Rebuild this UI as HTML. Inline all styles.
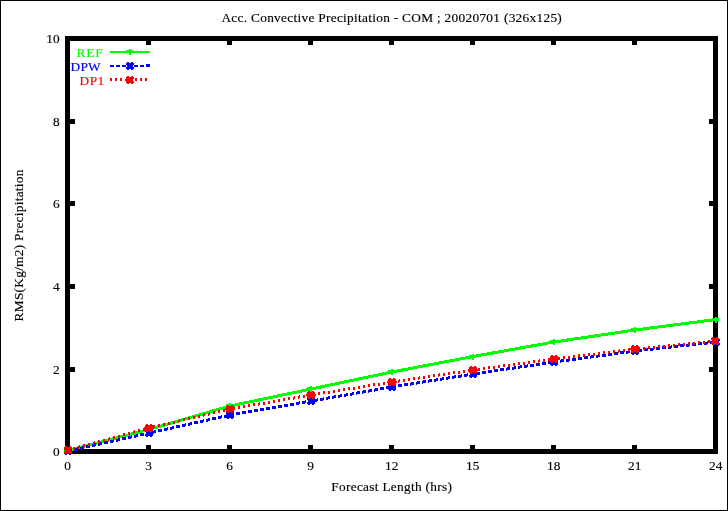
<!DOCTYPE html>
<html><head><meta charset="utf-8"><title>Acc. Convective Precipitation</title>
<style>html,body{margin:0;padding:0;background:#fff}svg{display:block}text{font-family:"Liberation Serif","Times New Roman",serif;font-size:13.33px;fill:#000;stroke:#000;stroke-width:0.15px}</style></head><body>
<svg width="728" height="511" viewBox="0 0 728 511">
<rect x="0" y="0" width="728" height="511" fill="#fff"/>
<g shape-rendering="crispEdges">
<rect x="0.5" y="0.5" width="727" height="510" fill="none" stroke="#000" stroke-width="1"/>
<rect x="67.5" y="38.5" width="648" height="413" fill="none" stroke="#000" stroke-width="5"/>
<rect x="146" y="41" width="5" height="4" fill="#000"/>
<rect x="146" y="445" width="5" height="4" fill="#000"/>
<rect x="227" y="41" width="5" height="4" fill="#000"/>
<rect x="227" y="445" width="5" height="4" fill="#000"/>
<rect x="308" y="41" width="5" height="4" fill="#000"/>
<rect x="308" y="445" width="5" height="4" fill="#000"/>
<rect x="389" y="41" width="5" height="4" fill="#000"/>
<rect x="389" y="445" width="5" height="4" fill="#000"/>
<rect x="470" y="41" width="5" height="4" fill="#000"/>
<rect x="470" y="445" width="5" height="4" fill="#000"/>
<rect x="551" y="41" width="5" height="4" fill="#000"/>
<rect x="551" y="445" width="5" height="4" fill="#000"/>
<rect x="632" y="41" width="5" height="4" fill="#000"/>
<rect x="632" y="445" width="5" height="4" fill="#000"/>
<rect x="70" y="367" width="5" height="5" fill="#000"/>
<rect x="709" y="367" width="4" height="5" fill="#000"/>
<rect x="70" y="284" width="5" height="5" fill="#000"/>
<rect x="709" y="284" width="4" height="5" fill="#000"/>
<rect x="70" y="201" width="5" height="5" fill="#000"/>
<rect x="709" y="201" width="4" height="5" fill="#000"/>
<rect x="70" y="119" width="5" height="5" fill="#000"/>
<rect x="709" y="119" width="4" height="5" fill="#000"/>
<polyline points="68,450.5 149,429.5 230,406 311,389 392,372 473,356.5 554,342 635,330 716,319.5" fill="none" stroke="#00ff00" stroke-width="3"/>
<path d="M68 449h4v3h-4zM74 448h3v3h-3zM77 447h1v3h-1zM80 447h2v3h-2zM82 446h2v3h-2zM86 445h4v3h-4zM92 444h3v3h-3zM95 443h1v3h-1zM98 443h2v3h-2zM100 442h2v3h-2zM104 441h4v3h-4zM110 440h3v3h-3zM113 439h1v3h-1zM116 439h2v3h-2zM118 438h2v3h-2zM122 437h4v3h-4zM128 436h3v3h-3zM131 435h1v3h-1zM134 435h2v3h-2zM136 434h2v3h-2zM140 433h4v3h-4zM146 432h3v3h-3zM149 431h1v3h-1zM152 431h2v3h-2zM154 430h2v3h-2zM158 429h4v3h-4zM164 428h3v3h-3zM167 427h1v3h-1zM170 427h2v3h-2zM172 426h2v3h-2zM176 425h4v3h-4zM182 424h3v3h-3zM185 423h1v3h-1zM188 423h2v3h-2zM190 422h2v3h-2zM194 421h4v3h-4zM200 420h3v3h-3zM203 419h1v3h-1zM206 419h2v3h-2zM208 418h2v3h-2zM212 417h4v3h-4zM218 416h3v3h-3zM221 415h1v3h-1zM224 415h2v3h-2zM226 414h2v3h-2zM230 413h4v3h-4zM236 412h4v3h-4zM242 411h4v3h-4zM248 410h4v3h-4zM254 409h4v3h-4zM260 408h4v3h-4zM266 407h4v3h-4zM272 406h4v3h-4zM278 405h4v3h-4zM284 404h4v3h-4zM290 403h4v3h-4zM296 402h3v3h-3zM299 401h1v3h-1zM302 401h3v3h-3zM305 400h1v3h-1zM308 400h3v3h-3zM311 399h1v3h-1zM314 399h3v3h-3zM317 398h1v3h-1zM320 398h3v3h-3zM323 397h1v3h-1zM326 397h2v3h-2zM328 396h2v3h-2zM332 396h2v3h-2zM334 395h2v3h-2zM338 395h2v3h-2zM340 394h2v3h-2zM344 394h2v3h-2zM346 393h2v3h-2zM350 393h2v3h-2zM352 392h2v3h-2zM356 392h1v3h-1zM357 391h3v3h-3zM362 391h1v3h-1zM363 390h3v3h-3zM368 390h1v3h-1zM369 389h3v3h-3zM374 389h1v3h-1zM375 388h3v3h-3zM380 387h4v3h-4zM386 386h4v3h-4zM392 385h4v3h-4zM398 384h4v3h-4zM404 383h4v3h-4zM410 383h1v3h-1zM411 382h3v3h-3zM416 382h1v3h-1zM417 381h3v3h-3zM422 381h1v3h-1zM423 380h3v3h-3zM428 380h1v3h-1zM429 379h3v3h-3zM434 379h2v3h-2zM436 378h2v3h-2zM440 378h2v3h-2zM442 377h2v3h-2zM446 377h2v3h-2zM448 376h2v3h-2zM452 376h2v3h-2zM454 375h2v3h-2zM458 375h3v3h-3zM461 374h1v3h-1zM464 374h3v3h-3zM467 373h1v3h-1zM470 373h3v3h-3zM473 372h1v3h-1zM476 372h4v3h-4zM482 371h4v3h-4zM488 370h4v3h-4zM494 369h4v3h-4zM500 368h4v3h-4zM506 368h1v3h-1zM507 367h3v3h-3zM512 367h2v3h-2zM514 366h2v3h-2zM518 366h2v3h-2zM520 365h2v3h-2zM524 365h3v3h-3zM527 364h1v3h-1zM530 364h4v3h-4zM536 363h4v3h-4zM542 362h4v3h-4zM548 361h4v3h-4zM554 360h4v3h-4zM560 360h1v3h-1zM561 359h3v3h-3zM566 359h3v3h-3zM569 358h1v3h-1zM572 358h4v3h-4zM578 357h4v3h-4zM584 356h4v3h-4zM590 356h1v3h-1zM591 355h3v3h-3zM596 355h2v3h-2zM598 354h2v3h-2zM602 354h4v3h-4zM608 353h4v3h-4zM614 352h4v3h-4zM620 351h4v3h-4zM626 351h2v3h-2zM628 350h2v3h-2zM632 350h3v3h-3zM635 349h1v3h-1zM638 349h4v3h-4zM644 348h4v3h-4zM650 348h3v3h-3zM653 347h1v3h-1zM656 347h4v3h-4zM662 346h4v3h-4zM668 346h3v3h-3zM671 345h1v3h-1zM674 345h4v3h-4zM680 344h4v3h-4zM686 344h3v3h-3zM689 343h1v3h-1zM692 343h4v3h-4zM698 342h4v3h-4zM704 342h3v3h-3zM707 341h1v3h-1zM710 341h4v3h-4z" fill="#0000ff"/>
<path d="M68 448h2v3h-2zM73 447h2v3h-2zM78 446h1v3h-1zM79 445h1v3h-1zM83 444h2v3h-2zM88 443h2v3h-2zM93 442h1v3h-1zM94 441h1v3h-1zM98 440h2v3h-2zM103 439h2v3h-2zM108 438h1v3h-1zM109 437h1v3h-1zM113 436h2v3h-2zM118 435h2v3h-2zM123 433h2v3h-2zM128 432h2v3h-2zM133 431h1v3h-1zM134 430h1v3h-1zM138 429h2v3h-2zM143 428h2v3h-2zM148 427h1v3h-1zM149 426h1v3h-1zM153 425h2v3h-2zM158 424h2v3h-2zM163 423h2v3h-2zM168 422h2v3h-2zM173 421h2v3h-2zM178 420h1v3h-1zM179 419h1v3h-1zM183 418h2v3h-2zM188 417h2v3h-2zM193 416h2v3h-2zM198 415h2v3h-2zM203 414h1v3h-1zM204 413h1v3h-1zM208 413h1v3h-1zM209 412h1v3h-1zM213 411h2v3h-2zM218 410h2v3h-2zM223 409h2v3h-2zM228 408h2v3h-2zM233 407h2v3h-2zM238 406h2v3h-2zM243 405h2v3h-2zM248 404h2v3h-2zM253 403h2v3h-2zM258 403h1v3h-1zM259 402h1v3h-1zM263 402h2v3h-2zM268 401h2v3h-2zM273 400h2v3h-2zM278 399h2v3h-2zM283 398h2v3h-2zM288 397h2v3h-2zM293 397h1v3h-1zM294 396h1v3h-1zM298 396h1v3h-1zM299 395h1v3h-1zM303 395h2v3h-2zM308 394h2v3h-2zM313 393h2v3h-2zM318 392h2v3h-2zM323 391h2v3h-2zM328 391h2v3h-2zM333 390h2v3h-2zM338 389h2v3h-2zM343 388h2v3h-2zM348 387h2v3h-2zM353 387h2v3h-2zM358 386h2v3h-2zM363 385h2v3h-2zM368 384h2v3h-2zM373 383h2v3h-2zM378 383h2v3h-2zM383 382h2v3h-2zM388 381h2v3h-2zM393 380h2v3h-2zM398 380h1v3h-1zM399 379h1v3h-1zM403 379h2v3h-2zM408 378h2v3h-2zM413 377h2v3h-2zM418 377h1v3h-1zM419 376h1v3h-1zM423 376h2v3h-2zM428 375h2v3h-2zM433 374h2v3h-2zM438 374h1v3h-1zM439 373h1v3h-1zM443 373h2v3h-2zM448 372h2v3h-2zM453 371h2v3h-2zM458 371h2v3h-2zM463 370h2v3h-2zM468 369h2v3h-2zM473 368h2v3h-2zM478 368h2v3h-2zM483 367h2v3h-2zM488 366h2v3h-2zM493 366h2v3h-2zM498 365h2v3h-2zM503 364h2v3h-2zM508 364h2v3h-2zM513 363h2v3h-2zM518 362h2v3h-2zM523 362h2v3h-2zM528 361h2v3h-2zM533 360h2v3h-2zM538 360h1v3h-1zM539 359h1v3h-1zM543 359h2v3h-2zM548 358h2v3h-2zM553 358h1v3h-1zM554 357h1v3h-1zM558 357h2v3h-2zM563 356h2v3h-2zM568 356h2v3h-2zM573 355h2v3h-2zM578 354h2v3h-2zM583 354h2v3h-2zM588 353h2v3h-2zM593 353h2v3h-2zM598 352h2v3h-2zM603 351h2v3h-2zM608 351h2v3h-2zM613 350h2v3h-2zM618 350h1v3h-1zM619 349h1v3h-1zM623 349h2v3h-2zM628 348h2v3h-2zM633 348h2v3h-2zM638 347h2v3h-2zM643 347h2v3h-2zM648 346h2v3h-2zM653 346h2v3h-2zM658 345h2v3h-2zM663 345h2v3h-2zM668 344h2v3h-2zM673 344h2v3h-2zM678 343h2v3h-2zM683 343h2v3h-2zM688 342h2v3h-2zM693 342h2v3h-2zM698 341h2v3h-2zM703 341h2v3h-2zM708 340h2v3h-2zM713 340h2v3h-2z" fill="#ff0000"/>
<rect x="67" y="447.5" width="2" height="6" fill="#00ff00"/><rect x="64" y="448.5" width="7" height="3" fill="#00ff00"/>
<rect x="148" y="426.5" width="2" height="6" fill="#00ff00"/><rect x="145" y="427.5" width="7" height="3" fill="#00ff00"/>
<rect x="229" y="403" width="2" height="6" fill="#00ff00"/><rect x="226" y="404" width="7" height="3" fill="#00ff00"/>
<rect x="310" y="386" width="2" height="6" fill="#00ff00"/><rect x="307" y="387" width="7" height="3" fill="#00ff00"/>
<rect x="391" y="369" width="2" height="6" fill="#00ff00"/><rect x="388" y="370" width="7" height="3" fill="#00ff00"/>
<rect x="472" y="353.5" width="2" height="6" fill="#00ff00"/><rect x="469" y="354.5" width="7" height="3" fill="#00ff00"/>
<rect x="553" y="339" width="2" height="6" fill="#00ff00"/><rect x="550" y="340" width="7" height="3" fill="#00ff00"/>
<rect x="634" y="327" width="2" height="6" fill="#00ff00"/><rect x="631" y="328" width="7" height="3" fill="#00ff00"/>
<rect x="715" y="316.5" width="2" height="6" fill="#00ff00"/><rect x="712" y="317.5" width="7" height="3" fill="#00ff00"/>
<polygon points="65,447 67,447 67,448 69,448 69,447 71,447 71,448 72,448 72,450 71,450 71,452 72,452 72,454 71,454 71,455 69,455 69,454 67,454 67,455 65,455 65,454 64,454 64,452 65,452 65,450 64,450 64,448 65,448" fill="#0000ff"/>
<polygon points="146,429 148,429 148,430 150,430 150,429 152,429 152,430 153,430 153,432 152,432 152,434 153,434 153,436 152,436 152,437 150,437 150,436 148,436 148,437 146,437 146,436 145,436 145,434 146,434 146,432 145,432 145,430 146,430" fill="#0000ff"/>
<polygon points="227,411 229,411 229,412 231,412 231,411 233,411 233,412 234,412 234,414 233,414 233,416 234,416 234,418 233,418 233,419 231,419 231,418 229,418 229,419 227,419 227,418 226,418 226,416 227,416 227,414 226,414 226,412 227,412" fill="#0000ff"/>
<polygon points="308,397 310,397 310,398 312,398 312,397 314,397 314,398 315,398 315,400 314,400 314,402 315,402 315,404 314,404 314,405 312,405 312,404 310,404 310,405 308,405 308,404 307,404 307,402 308,402 308,400 307,400 307,398 308,398" fill="#0000ff"/>
<polygon points="389,383 391,383 391,384 393,384 393,383 395,383 395,384 396,384 396,386 395,386 395,388 396,388 396,390 395,390 395,391 393,391 393,390 391,390 391,391 389,391 389,390 388,390 388,388 389,388 389,386 388,386 388,384 389,384" fill="#0000ff"/>
<polygon points="470,370 472,370 472,371 474,371 474,370 476,370 476,371 477,371 477,373 476,373 476,375 477,375 477,377 476,377 476,378 474,378 474,377 472,377 472,378 470,378 470,377 469,377 469,375 470,375 470,373 469,373 469,371 470,371" fill="#0000ff"/>
<polygon points="551,358 553,358 553,359 555,359 555,358 557,358 557,359 558,359 558,361 557,361 557,363 558,363 558,365 557,365 557,366 555,366 555,365 553,365 553,366 551,366 551,365 550,365 550,363 551,363 551,361 550,361 550,359 551,359" fill="#0000ff"/>
<polygon points="632,347 634,347 634,348 636,348 636,347 638,347 638,348 639,348 639,350 638,350 638,352 639,352 639,354 638,354 638,355 636,355 636,354 634,354 634,355 632,355 632,354 631,354 631,352 632,352 632,350 631,350 631,348 632,348" fill="#0000ff"/>
<polygon points="713,338 715,338 715,339 717,339 717,338 719,338 719,339 720,339 720,341 719,341 719,343 720,343 720,345 719,345 719,346 717,346 717,345 715,345 715,346 713,346 713,345 712,345 712,343 713,343 713,341 712,341 712,339 713,339" fill="#0000ff"/>
<polygon points="65,446 67,446 67,447 69,447 69,446 71,446 71,447 72,447 72,449 71,449 71,451 72,451 72,453 71,453 71,454 69,454 69,453 67,453 67,454 65,454 65,453 64,453 64,451 65,451 65,449 64,449 64,447 65,447" fill="#ff0000"/>
<polygon points="146,424 148,424 148,425 150,425 150,424 152,424 152,425 153,425 153,427 154,427 154,429 153,429 153,431 152,431 152,432 150,432 150,431 148,431 148,432 146,432 146,431 145,431 145,429 144,429 144,427 145,427 145,425 146,425" fill="#ff0000"/>
<polygon points="227,405 229,405 229,406 231,406 231,405 233,405 233,406 234,406 234,408 235,408 235,410 234,410 234,412 233,412 233,413 231,413 231,412 229,412 229,413 227,413 227,412 226,412 226,410 225,410 225,408 226,408 226,406 227,406" fill="#ff0000"/>
<polygon points="308,391 310,391 310,392 312,392 312,391 314,391 314,392 315,392 315,394 316,394 316,396 315,396 315,398 314,398 314,399 312,399 312,398 310,398 310,399 308,399 308,398 307,398 307,396 306,396 306,394 307,394 307,392 308,392" fill="#ff0000"/>
<polygon points="389,378 391,378 391,379 393,379 393,378 395,378 395,379 396,379 396,381 397,381 397,383 396,383 396,385 395,385 395,386 393,386 393,385 391,385 391,386 389,386 389,385 388,385 388,383 387,383 387,381 388,381 388,379 389,379" fill="#ff0000"/>
<polygon points="470,366 472,366 472,367 474,367 474,366 476,366 476,367 477,367 477,369 478,369 478,371 477,371 477,373 476,373 476,374 474,374 474,373 472,373 472,374 470,374 470,373 469,373 469,371 468,371 468,369 469,369 469,367 470,367" fill="#ff0000"/>
<polygon points="551,355 553,355 553,356 555,356 555,355 557,355 557,356 558,356 558,358 559,358 559,360 558,360 558,362 557,362 557,363 555,363 555,362 553,362 553,363 551,363 551,362 550,362 550,360 549,360 549,358 550,358 550,356 551,356" fill="#ff0000"/>
<polygon points="632,345 634,345 634,346 636,346 636,345 638,345 638,346 639,346 639,348 640,348 640,350 639,350 639,352 638,352 638,353 636,353 636,352 634,352 634,353 632,353 632,352 631,352 631,350 630,350 630,348 631,348 631,346 632,346" fill="#ff0000"/>
<polygon points="712,337 714,337 714,338 716,338 716,337 718,337 718,338 719,338 719,340 718,340 718,342 719,342 719,344 718,344 718,345 716,345 716,344 714,344 714,345 712,345 712,344 711,344 711,342 712,342 712,340 711,340 711,338 712,338" fill="#ff0000"/>
<rect x="110" y="51" width="40" height="2" fill="#00ff00"/>
<rect x="129" y="49" width="2" height="6" fill="#00ff00"/><rect x="126" y="50" width="7" height="3" fill="#00ff00"/>
<rect x="110" y="65" width="4" height="2" fill="#0000ff"/>
<rect x="116" y="65" width="4" height="2" fill="#0000ff"/>
<rect x="122" y="65" width="4" height="2" fill="#0000ff"/>
<rect x="134" y="65" width="4" height="2" fill="#0000ff"/>
<rect x="140" y="65" width="4" height="2" fill="#0000ff"/>
<rect x="146" y="64" width="4" height="3" fill="#0000ff"/>
<polygon points="127,62 129,62 129,63 131,63 131,62 133,62 133,63 134,63 134,65 133,65 133,67 134,67 134,69 133,69 133,70 131,70 131,69 129,69 129,70 127,70 127,69 126,69 126,67 127,67 127,65 126,65 126,63 127,63" fill="#0000ff"/>
<rect x="110" y="78" width="2" height="3" fill="#ff0000"/>
<rect x="115" y="78" width="2" height="3" fill="#ff0000"/>
<rect x="120" y="78" width="2" height="3" fill="#ff0000"/>
<rect x="135" y="78" width="2" height="3" fill="#ff0000"/>
<rect x="140" y="78" width="2" height="3" fill="#ff0000"/>
<rect x="145" y="78" width="2" height="3" fill="#ff0000"/>
<polygon points="127,76 129,76 129,77 131,77 131,76 133,76 133,77 134,77 134,79 133,79 133,81 134,81 134,83 133,83 133,84 131,84 131,83 129,83 129,84 127,84 127,83 126,83 126,81 125,81 125,79 126,79 126,77 127,77" fill="#ff0000"/>
</g>
<text x="221.4" y="22" textLength="340.4" lengthAdjust="spacing">Acc. Convective Precipitation - COM ; 20020701 (326x125)</text>
<text x="331.3" y="491" textLength="120.6" lengthAdjust="spacing">Forecast Length (hrs)</text>
<text transform="translate(22.5,321.4) rotate(-90)" textLength="151.8" lengthAdjust="spacing">RMS(Kg/m2) Precipitation</text>
<text x="67.7" y="470" text-anchor="middle">0</text>
<text x="148.7" y="470" text-anchor="middle">3</text>
<text x="229.7" y="470" text-anchor="middle">6</text>
<text x="310.7" y="470" text-anchor="middle">9</text>
<text x="391.7" y="470" text-anchor="middle">12</text>
<text x="472.7" y="470" text-anchor="middle">15</text>
<text x="553.7" y="470" text-anchor="middle">18</text>
<text x="634.7" y="470" text-anchor="middle">21</text>
<text x="715.7" y="470" text-anchor="middle">24</text>
<text x="59.6" y="456" text-anchor="end">0</text>
<text x="59.6" y="374" text-anchor="end">2</text>
<text x="59.6" y="291" text-anchor="end">4</text>
<text x="59.6" y="208" text-anchor="end">6</text>
<text x="59.6" y="126" text-anchor="end">8</text>
<text x="59.6" y="43" text-anchor="end">10</text>
<text x="76.6" y="57" textLength="26.1" lengthAdjust="spacing" style="fill:#00ff00;stroke:#00ff00">REF</text>
<text x="70.5" y="71" textLength="30.2" lengthAdjust="spacing" style="fill:#0000ff;stroke:#0000ff">DPW</text>
<text x="79.6" y="85" textLength="24.6" lengthAdjust="spacing" style="fill:#ff0000;stroke:#ff0000">DP1</text>
</svg></body></html>
